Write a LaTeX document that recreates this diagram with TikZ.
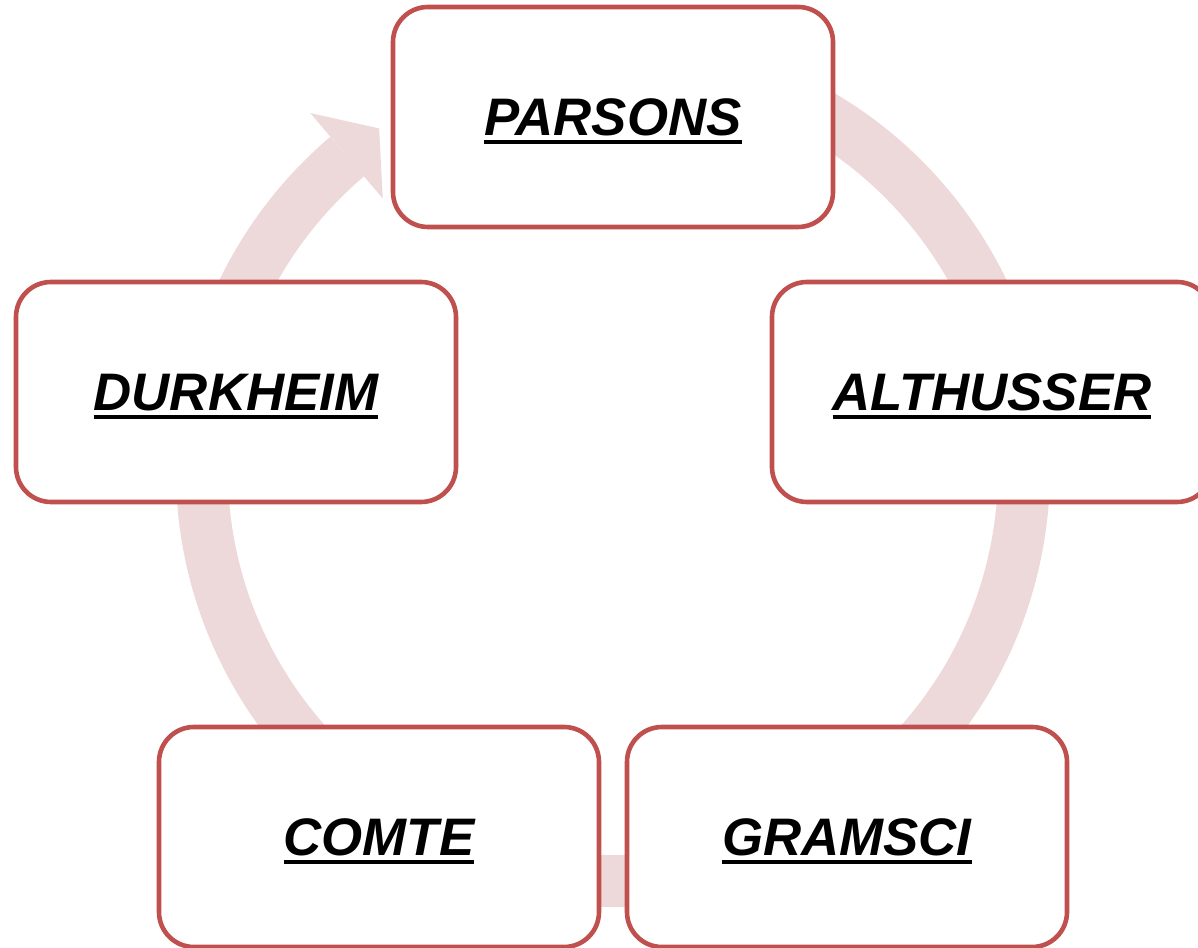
\documentclass[tikz,border=0pt]{standalone}
\usepackage{fontspec}
\setmainfont{Liberation Sans}
\definecolor{boxred}{RGB}{192,80,77}
\definecolor{ringpink}{RGB}{237,217,218}
\newcommand\ulname[1]{\setbox0\hbox{#1}\rlap{\rule[-3.9pt]{\wd0}{1.65pt}}\box0}
\begin{document}
\begin{tikzpicture}[x=0.5pt,y=0.5pt,
  box/.style={draw=boxred, line width=2.3pt, fill=white, rounded corners=17.5pt,
    minimum width=220pt, minimum height=110pt, inner sep=0pt,
    font=\fontsize{26.4}{30}\selectfont\bfseries\itshape, text height=18.9pt, text depth=0pt},
  ring/.style={draw=ringpink, line width=26pt},
  ringhead/.style={fill=ringpink}]
\useasboundingbox (0,0) rectangle (1198,947);
\clip (0,0) rectangle (1198,947);
% cycle ring with arrow head
\draw[ring, shift={(613,477)}] (80:411) arc[start angle=80, end angle=-229.7, radius=411];
\fill[ringhead, shift={(613,477)}] (130.3:468) -- (124.4:414) -- (130.3:356) -- cycle;
% boxes
\node[box] (parsons)   at (613,830) {\ulname{PARSONS}};
\node[box] (durkheim)  at (236,555) {\ulname{DURKHEIM}};
\node[box] (althusser) at (992,555) {\ulname{ALTHUSSER}};
\node[box] (comte)     at (379,110) {\ulname{COMTE}};
\node[box] (gramsci)   at (847,110) {\ulname{GRAMSCI}};
\end{tikzpicture}
\end{document}
